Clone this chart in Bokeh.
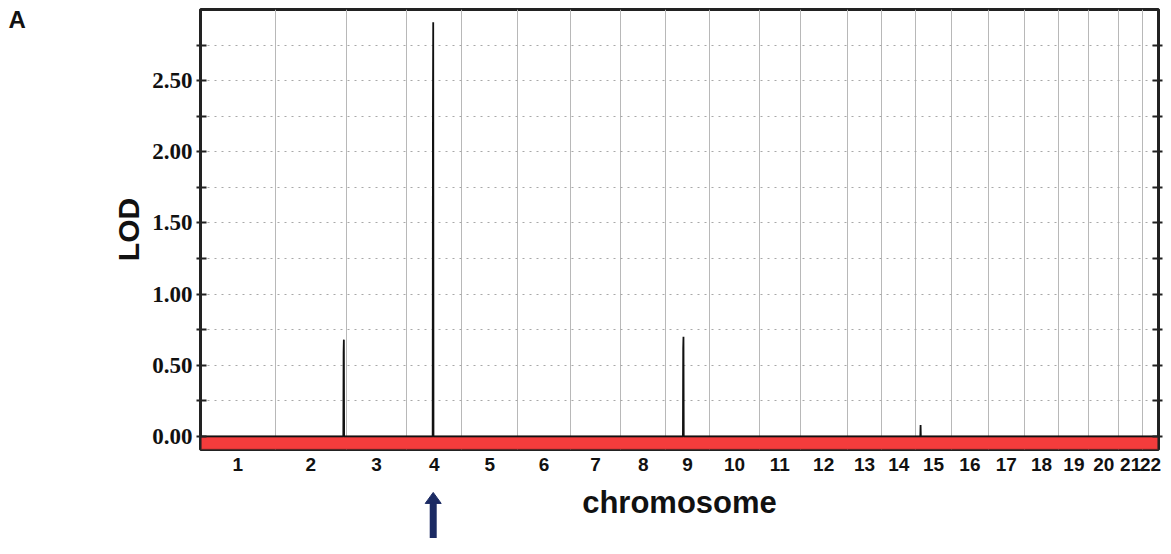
from bokeh.plotting import figure
from bokeh.layouts import column, row
from bokeh.models import (FixedTicker, LinearAxis, Range1d, BoxAnnotation,
                          PrintfTickFormatter)
from bokeh.core.properties import value
from bokeh.embed import file_html
from bokeh.resources import INLINE

# ---- data ----
chromosomes = [str(i) for i in range(1, 23)]
chrom_len_cM = [272, 261, 218, 203, 203, 192, 185, 163, 160, 182, 149,
                171, 127, 123, 131, 134, 131, 127, 109, 109, 87, 58]
# non-zero LOD points (chromosome, position in cM, LOD)
peak_chrom = ["2", "2", "2", "2", "4", "4", "4", "4", "9", "9", "9", "9", "15", "15", "15"]
peak_pos = [249, 250, 251, 252, 96, 97, 98, 99, 63, 64, 65, 66, 17, 18, 19]
peak_lod = [0.0, 0.59, 0.68, 0.0, 0.0, 2.31, 2.91, 0.0, 0.0, 0.62, 0.70, 0.0, 0.0, 0.08, 0.0]
y_major = [0.0, 0.5, 1.0, 1.5, 2.0, 2.5]
y_minor = [0.25, 0.75, 1.25, 1.75, 2.25, 2.75]
highlight_chrom = "4"
highlight_pos = 98
x_title = "chromosome"
y_title = "LOD"
panel_letter = "A"

# ---- derived ----
starts = []
acc = 0
for L in chrom_len_cM:
    starts.append(acc)
    acc += L
total = acc
boundaries = starts + [total]
centers = [s + L / 2 for s, L in zip(starts, chrom_len_cM)]
start_of = dict(zip(chromosomes, starts))

xs = [0]
ys = [0.0]
for c, pos, lod in zip(peak_chrom, peak_pos, peak_lod):
    xs.append(start_of[c] + pos)
    ys.append(lod)
xs.append(total)
ys.append(0.0)

# ---- layout geometry ----
W, H = 1163, 538
LEFT_W = 40            # strip holding the panel letter
TOP_H = 478            # main chart height
BL, BR, BT, BB = 160, 5, 9, 29
FW, FH = W - LEFT_W - BL - BR, TOP_H - BT - BB
y_lo, y_hi = -0.092, 3.0
lod_per_px = (y_hi - y_lo) / FH
cm_per_px = total / FW

x_range = Range1d(0, total)

# ---- main chart ----
p = figure(width=W - LEFT_W, height=TOP_H, output_backend="svg", toolbar_location=None,
           x_range=x_range, y_range=Range1d(y_lo, y_hi),
           min_border_left=BL, min_border_right=BR, min_border_top=BT, min_border_bottom=BB)
p.background_fill_color = "white"
p.border_fill_color = "white"
p.outline_line_color = "#222222"
p.outline_line_width = 3

yticker = FixedTicker(ticks=y_major, minor_ticks=y_minor)

# grids
p.xgrid.ticker = FixedTicker(ticks=boundaries)
p.xgrid.grid_line_color = "#b8b8b8"
p.xgrid.grid_line_width = 1
p.ygrid.ticker = yticker
for attr in ("grid_line", "minor_grid_line"):
    setattr(p.ygrid, attr + "_color", "#a8a8a8")
    setattr(p.ygrid, attr + "_dash", "2 5")
    setattr(p.ygrid, attr + "_width", 1)

# red baseline band
p.add_layout(BoxAnnotation(top=0, fill_color="#f43c3c", fill_alpha=1.0,
                           line_color="#7a1c1c", line_width=2, level="underlay"))

# LOD trace
p.line(xs, ys, line_color="#111111", line_width=1.8)


def style_ticks(ax):
    ax.ticker = yticker
    ax.major_tick_in = 6
    ax.major_tick_out = 4
    ax.minor_tick_in = 6
    ax.minor_tick_out = 4
    ax.major_tick_line_width = 2
    ax.minor_tick_line_width = 2
    ax.major_tick_line_color = "#222222"
    ax.minor_tick_line_color = "#222222"
    ax.axis_line_color = "#222222"
    ax.axis_line_width = 2


ya = p.yaxis[0]
style_ticks(ya)
ya.formatter = PrintfTickFormatter(format="%.2f")
ya.major_label_text_font = "Liberation Serif"
ya.major_label_text_font_style = "bold"
ya.major_label_text_font_size = "23px"
ya.major_label_text_color = "#111111"
ya.major_label_standoff = 4
ya.axis_label = y_title
ya.axis_label_text_font = "Liberation Sans"
ya.axis_label_text_font_style = "bold"
ya.axis_label_text_font_size = "30px"
ya.axis_label_text_color = "#111111"
ya.axis_label_standoff = 4

ra = LinearAxis()
style_ticks(ra)
ra.major_label_text_color = None
ra.major_label_text_font_size = "1px"
ra.major_label_standoff = 0
p.add_layout(ra, "right")

xa = p.xaxis[0]
xa.ticker = FixedTicker(ticks=centers)
xa.major_label_overrides = {c: n for c, n in zip(centers, chromosomes)}
xa.major_label_text_font = "Liberation Sans"
xa.major_label_text_font_style = "bold"
xa.major_label_text_font_size = "19px"
xa.major_label_text_color = "#111111"
xa.major_tick_line_color = None
xa.minor_tick_line_color = None
xa.axis_line_color = None
xa.major_label_standoff = 2

# ---- panel letter strip ----
pa = figure(width=LEFT_W, height=TOP_H, output_backend="svg", toolbar_location=None,
            x_range=Range1d(0, LEFT_W), y_range=Range1d(TOP_H, 0),
            x_axis_location=None, y_axis_location=None, min_border=0)
pa.outline_line_color = None
pa.grid.visible = False
pa.text(x=[8], y=[-4], text=[panel_letter], text_font=value("Liberation Sans"),
        text_font_style="bold", text_font_size="24px", text_color="#111111",
        text_baseline="top", text_align="left")

# ---- bottom strip: axis title and arrow ----
zero_px = BT + (y_hi - 0) / (y_hi - y_lo) * FH        # pixel row of LOD 0 in main chart
b_top = -(TOP_H - zero_px) * lod_per_px
b_bot = -(H - zero_px) * lod_per_px
pb = figure(width=W, height=H - TOP_H, output_backend="svg", toolbar_location=None,
            x_range=Range1d(-(LEFT_W + BL) * cm_per_px, total + BR * cm_per_px),
            y_range=Range1d(b_bot, b_top),
            x_axis_location=None, y_axis_location=None, min_border=0)
pb.outline_line_color = None
pb.grid.visible = False

navy = "#1b2a63"
hi_x = start_of[highlight_chrom] + highlight_pos
tip_y = -56 * lod_per_px
base_y = -67 * lod_per_px
hw = 8 * cm_per_px
pb.segment(x0=[hi_x], y0=[b_bot], x1=[hi_x], y1=[base_y + lod_per_px],
           line_color=navy, line_width=7)
pb.patch(x=[hi_x - hw, hi_x + hw, hi_x], y=[base_y, base_y, tip_y],
         fill_color=navy, line_color=navy, line_width=1)

pb.text(x=[total / 2], y=[-66 * lod_per_px], text=[x_title],
        text_font=value("Liberation Sans"), text_font_style="bold",
        text_font_size="31px", text_color="#111111",
        text_align="center", text_baseline="middle")

layout = column(row(pa, p, spacing=0), pb, spacing=0)
open("out.html", "w").write(file_html(layout, INLINE))
